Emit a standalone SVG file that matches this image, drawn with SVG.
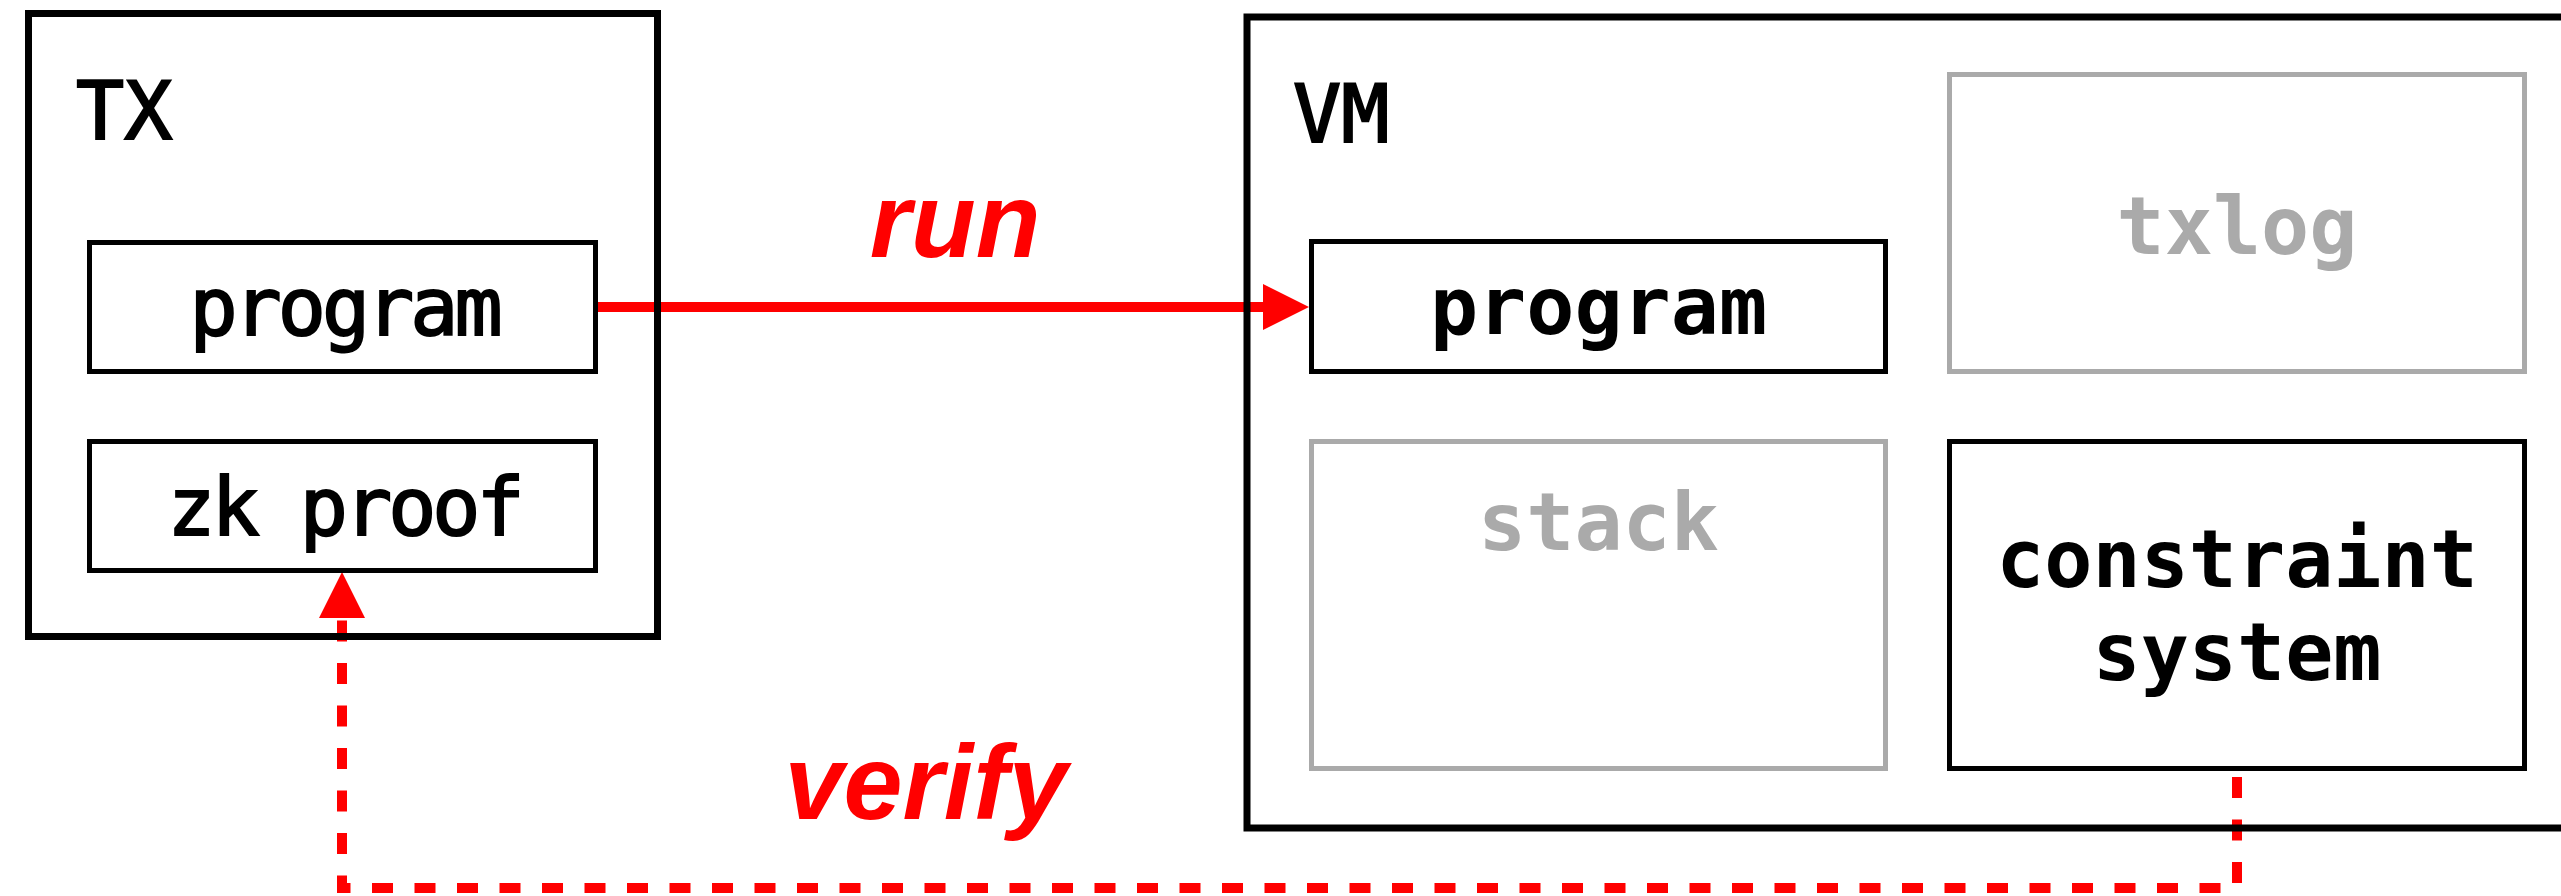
<svg xmlns="http://www.w3.org/2000/svg" width="2561" height="896" viewBox="0 0 2561 896">
<style>
.outer{fill:none;stroke:#000;stroke-width:7}
.box{fill:none;stroke:#000;stroke-width:5}
.gbox{fill:none;stroke:#aaaaaa;stroke-width:5}
.lbl{font-family:"DejaVu Sans Mono",monospace;font-size:80px;fill:#000;stroke:#000;stroke-width:2}
.t{font-family:"DejaVu Sans Mono",monospace;font-size:80px;fill:#000;stroke:#000;stroke-width:2;text-anchor:middle;letter-spacing:-4px}
.tb{font-family:"DejaVu Sans Mono",monospace;font-size:80px;font-weight:bold;fill:#000;text-anchor:middle}
.tg{font-family:"DejaVu Sans Mono",monospace;font-size:80px;font-weight:bold;fill:#aaaaaa;text-anchor:middle}
.edge{fill:none;stroke:#ff0000;stroke-width:10}
.elbl{font-family:"Liberation Sans",Arial,sans-serif;font-size:106px;font-weight:bold;font-style:italic;fill:#ff0000;text-anchor:middle}
</style>
<defs>
<marker id="ah" markerUnits="userSpaceOnUse" markerWidth="46" markerHeight="46" refX="0" refY="23" orient="auto">
<path d="M0,0 L46,23 L0,46 z" fill="#ff0000"/>
</marker>
</defs>
<g id="connectors">
<path id="run" class="edge" d="M598,307 H1263" marker-end="url(#ah)"/>
<text class="elbl" x="955" y="257">run</text>
<path id="verify" class="edge" d="M2237,777 V888 H342 V618" stroke-dasharray="21 21.5" marker-end="url(#ah)"/>
<text class="elbl" x="926" y="819">verify</text>
</g>
<g id="tx">
<rect class="outer" x="28.5" y="13.5" width="629" height="623"/>
<text class="lbl" x="76" y="139">TX</text>
</g>
<g id="tx-program">
<rect class="box" x="89.5" y="242.5" width="506" height="129"/>
<text class="t" x="344" y="335">program</text>
</g>
<g id="tx-zkproof">
<rect class="box" x="89.5" y="441.5" width="506" height="129"/>
<text class="t" x="344" y="535">zk proof</text>
</g>
<g id="vm">
<rect class="outer" x="1247" y="17" width="1400" height="811"/>
<text class="lbl" x="1293" y="142">VM</text>
</g>
<g id="vm-program">
<rect class="box" x="1311.5" y="241.5" width="574" height="130"/>
<text class="tb" x="1598.5" y="334">program</text>
</g>
<g id="txlog">
<rect class="gbox" x="1949.5" y="74.5" width="575" height="297"/>
<text class="tg" x="2237" y="254">txlog</text>
</g>
<g id="stack">
<rect class="gbox" x="1311.5" y="441.5" width="574" height="327"/>
<text class="tg" x="1598.5" y="550">stack</text>
</g>
<g id="constraint-system">
<rect class="box" x="1949.5" y="441.5" width="575" height="327"/>
<text class="tb" x="2237" y="587">constraint</text>
<text class="tb" x="2237" y="680">system</text>
</g>
</svg>
